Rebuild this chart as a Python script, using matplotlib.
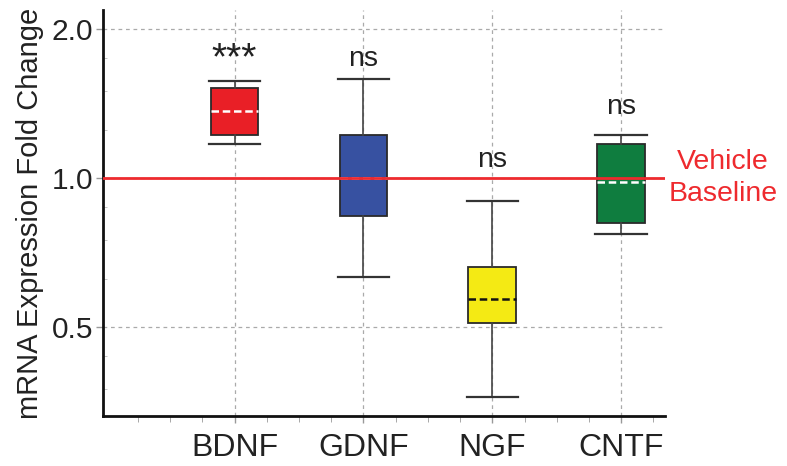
import matplotlib
matplotlib.use("Agg")
import matplotlib.pyplot as plt
from matplotlib.ticker import FixedLocator, NullFormatter

plt.rcParams['font.family'] = ['Liberation Sans', 'DejaVu Sans']

# data (fold change)
genes = ["BDNF", "GDNF", "NGF", "CNTF"]
whisker_low = [1.17, 0.63, 0.36, 0.77]
q1 = [1.22, 0.84, 0.51, 0.81]
medians = [1.37, 1.00, 0.57, 0.98]
q3 = [1.52, 1.22, 0.66, 1.17]
whisker_high = [1.57, 1.59, 0.90, 1.22]
labels = ["***", "ns", "ns", "ns"]
label_y = [1.74, 1.74, 1.09, 1.39]
colors = ["#e91f26", "#3751a1", "#f4ea14", "#0f7d3f"]
median_colors = ["white", "white", "#111111", "white"]

fig = plt.figure(figsize=(7.87, 4.66), dpi=100)
ax = fig.add_axes([0.131, 0.107, 0.714, 0.872])

stats = []
for i, g in enumerate(genes):
    stats.append({"label": g, "whislo": whisker_low[i], "q1": q1[i],
                  "med": medians[i], "q3": q3[i], "whishi": whisker_high[i],
                  "fliers": []})

positions = range(1, len(genes) + 1)
bp = ax.bxp(stats, positions=positions, widths=0.37, patch_artist=True,
            showfliers=False,
            boxprops=dict(edgecolor="#2a2a2a", linewidth=1.3),
            whiskerprops=dict(color="#444444", linewidth=1.2),
            capprops=dict(color="#333333", linewidth=1.6),
            medianprops=dict(linewidth=1.8, linestyle=(0, (3, 1.5))),
            capwidths=0.4, zorder=3)
for patch, c in zip(bp["boxes"], colors):
    patch.set_facecolor(c)
for med, c in zip(bp["medians"], median_colors):
    med.set_color(c)

# vehicle baseline
ax.axhline(1.0, color="#ee2a2e", linewidth=2.0, zorder=4)
ax.text(4.79, 1.0, "Vehicle\nBaseline", color="#ee2a2e", fontsize=20.5,
        ha="center", va="center", multialignment="center", linespacing=1.3,
        clip_on=False)

for x, t, y in zip(positions, labels, label_y):
    size = 28 if t == "***" else 20.5
    ax.text(x, y, t, ha="center", va="center", fontsize=size, color="#222222")

ax.set_yscale("log")
ax.set_ylim(0.33, 2.19)
ax.set_xlim(-0.02, 4.34)
ax.set_yticks([0.5, 1.0, 2.0])
ax.set_yticklabels(["0.5", "1.0", "2.0"])
ax.yaxis.set_minor_locator(FixedLocator([0.375, 0.4375, 0.625, 0.75, 0.875,
                                         1.25, 1.5, 1.75]))
ax.yaxis.set_minor_formatter(NullFormatter())
ax.set_xticks(list(positions))
ax.set_xticklabels(genes)
ax.xaxis.set_minor_locator(FixedLocator([0.25, 0.5, 0.75, 1.25, 1.5, 1.75,
                                         2.25, 2.5, 2.75, 3.25, 3.5, 3.75,
                                         4.25]))

ax.grid(True, which="major", linestyle=(0, (3, 3)), color="#aaaaaa",
        linewidth=0.9, zorder=0)
ax.set_axisbelow(True)

ax.tick_params(axis="both", which="major", labelsize=21.5, colors="#999999",
               labelcolor="#222222", length=5, width=1)
ax.tick_params(axis="x", which="major", labelsize=23, pad=7)
ax.tick_params(axis="y", which="major", direction="out", pad=2)
ax.tick_params(axis="y", which="minor", direction="in", length=3,
               color="#bbbbbb")
ax.tick_params(axis="x", which="minor", direction="out", length=4,
               color="#999999")

ax.set_ylabel("mRNA Expression Fold Change", fontsize=21, color="#222222",
              labelpad=6)

for side in ["top", "right"]:
    ax.spines[side].set_visible(False)
for side in ["left", "bottom"]:
    ax.spines[side].set_linewidth(2.0)
    ax.spines[side].set_color("#111111")

fig.savefig("out.png", dpi=100)
